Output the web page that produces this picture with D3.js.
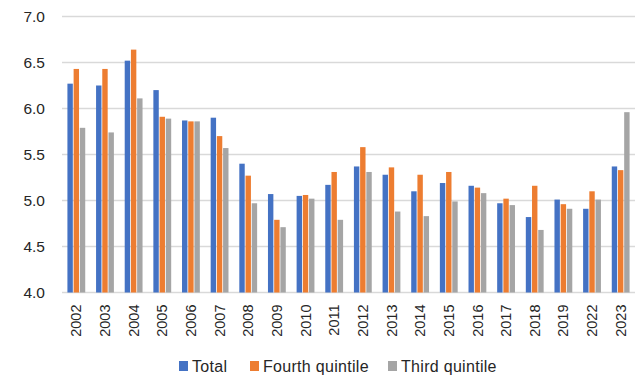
<!DOCTYPE html>
<html>
<head>
<meta charset="utf-8">
<script src="https://cdn.jsdelivr.net/npm/d3@7/dist/d3.min.js"></script>
<style>
  html, body { margin: 0; padding: 0; background: #fff; }
  svg { display: block; font-family: "Liberation Sans", Arial, sans-serif; }
</style>
</head>
<body>
<svg id="chart" width="639" height="376"></svg>
<script>
// Years on the category axis
const years = ["2002","2003","2004","2005","2006","2007","2008","2009","2010","2011",
               "2012","2013","2014","2015","2016","2017","2018","2019","2022","2023"];

// Series values
const total = [6.27, 6.25, 6.52, 6.20, 5.87, 5.90, 5.40, 5.07, 5.05, 5.17,
               5.37, 5.28, 5.10, 5.19, 5.16, 4.97, 4.82, 5.01, 4.91, 5.37];
const fourthQuintile = [6.43, 6.43, 6.64, 5.91, 5.86, 5.70, 5.27, 4.79, 5.06, 5.31,
                        5.58, 5.36, 5.28, 5.31, 5.14, 5.02, 5.16, 4.96, 5.10, 5.33];
const thirdQuintile = [5.79, 5.74, 6.11, 5.89, 5.86, 5.57, 4.97, 4.71, 5.02, 4.79,
                       5.31, 4.88, 4.83, 4.99, 5.08, 4.95, 4.68, 4.91, 5.01, 5.96];

const seriesNames = ["Total", "Fourth quintile", "Third quintile"];
const seriesColors = ["#4472C4", "#ED7D31", "#A5A5A5"];
const seriesValues = [total, fourthQuintile, thirdQuintile];

// Value axis ticks
const yTicks = [4.0, 4.5, 5.0, 5.5, 6.0, 6.5, 7.0];

const svg = d3.select("#chart");
const plot = { left: 62, right: 635, top: 16.5, bottom: 292.5 };

const y = d3.scaleLinear().domain([4.0, 7.0]).range([plot.bottom, plot.top]);
const x0 = d3.scaleBand().domain(years).range([plot.left, plot.right])
  .paddingInner(0.35).paddingOuter(0.175);
const x1 = d3.scaleBand().domain(seriesNames).range([0, x0.bandwidth()]);

// Horizontal gridlines
svg.append("g")
  .selectAll("line")
  .data(yTicks)
  .join("line")
  .attr("x1", plot.left).attr("x2", plot.right)
  .attr("y1", d => y(d)).attr("y2", d => y(d))
  .attr("stroke", "#d9d9d9").attr("stroke-width", 1.3);

// Y axis labels
const yAxis = d3.axisLeft(y).tickValues(yTicks).tickFormat(d3.format(".1f")).tickSize(0).tickPadding(17);
svg.append("g")
  .attr("transform", `translate(${plot.left},0)`)
  .call(yAxis)
  .call(g => g.select(".domain").remove())
  .call(g => g.selectAll("text").attr("font-size", 15.5).attr("fill", "#262626")
    .attr("font-family", "'Liberation Sans', Arial, sans-serif"));

// Bars
const groups = svg.append("g")
  .selectAll("g")
  .data(years)
  .join("g")
  .attr("transform", d => `translate(${x0(d)},0)`);

groups.selectAll("rect")
  .data((d, i) => seriesNames.map((s, k) => ({ s, k, v: seriesValues[k][i] })))
  .join("rect")
  .attr("x", d => x1(d.s) + 0.4)
  .attr("width", x1.bandwidth() - 0.8)
  .attr("y", d => y(d.v))
  .attr("height", d => y(4.0) - y(d.v))
  .attr("fill", d => seriesColors[d.k]);

// X axis labels, rotated
const xAxis = d3.axisBottom(x0).tickSize(0).tickPadding(0);
svg.append("g")
  .attr("transform", `translate(0,${plot.bottom})`)
  .call(xAxis)
  .call(g => g.select(".domain").remove())
  .call(g => g.selectAll("text")
    .attr("font-size", 14.5)
    .attr("fill", "#262626")
    .attr("font-family", "'Liberation Sans', Arial, sans-serif")
    .attr("text-anchor", "end")
    .attr("dy", "0.35em")
    .attr("transform", "translate(0,12) rotate(-90)"));

// Legend
const legendItems = [
  { name: seriesNames[0], color: seriesColors[0], x: 179 },
  { name: seriesNames[1], color: seriesColors[1], x: 250 },
  { name: seriesNames[2], color: seriesColors[2], x: 388 }
];
const legend = svg.append("g").attr("transform", "translate(0,366)");
const li = legend.selectAll("g").data(legendItems).join("g")
  .attr("transform", d => `translate(${d.x},0)`);
li.append("rect").attr("x", 0).attr("y", -5).attr("width", 9).attr("height", 10)
  .attr("fill", d => d.color);
li.append("text").attr("x", 13).attr("y", 0).attr("dy", "0.35em")
  .attr("font-size", 16).attr("letter-spacing", 0.3).attr("fill", "#262626")
  .text(d => d.name);
</script>
</body>
</html>
